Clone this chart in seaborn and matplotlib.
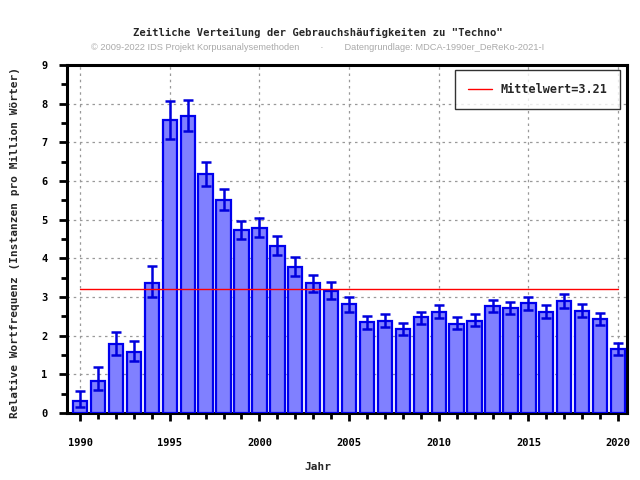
#recreates the "Techno" usage frequency bar chart (relative frequency per year with error bars)

import numpy as np
import matplotlib
matplotlib.use("Agg")
import matplotlib.pyplot as plt
import seaborn as sns
import pandas as pd

years = list(range(1990, 2021))
freq = [0.32, 0.84, 1.79, 1.59, 3.37, 7.59, 7.69, 6.19, 5.52, 4.74, 4.79,
        4.33, 3.78, 3.37, 3.16, 2.81, 2.36, 2.39, 2.18, 2.47, 2.62,
        2.31, 2.39, 2.78, 2.72, 2.85, 2.62, 2.90, 2.65, 2.44, 1.66]
err_hi = [0.58, 1.20, 2.10, 1.87, 3.81, 8.08, 8.10, 6.50, 5.80, 4.97, 5.05,
          4.58, 4.04, 3.58, 3.40, 3.01, 2.52, 2.57, 2.34, 2.62, 2.80,
          2.49, 2.57, 2.93, 2.88, 3.01, 2.80, 3.09, 2.83, 2.59, 1.82]
err_lo = [0.16, 0.59, 1.50, 1.34, 3.00, 7.09, 7.30, 5.88, 5.25, 4.50, 4.55,
          4.09, 3.54, 3.13, 2.95, 2.60, 2.16, 2.22, 2.03, 2.29, 2.46,
          2.16, 2.24, 2.61, 2.56, 2.66, 2.46, 2.72, 2.48, 2.28, 1.50]
mean_value = 3.21

mono = "DejaVu Sans Mono"

df = pd.DataFrame({"Jahr": years, "freq": freq})

sns.set_style("ticks")
plt.rcParams["font.family"] = [mono]

fig = plt.figure(figsize=(6.4, 4.8), dpi=100)
ax = fig.add_axes([67 / 640, 1 - 413 / 480, 560 / 640, 348 / 480])

sns.barplot(data=df, x="Jahr", y="freq", native_scale=True, width=0.8,
            color="#8080ff", saturation=1, edgecolor="#0000ee", linewidth=1.6,
            errorbar=None, ax=ax, zorder=3)

f = np.array(freq)
yerr = [f - np.array(err_lo), np.array(err_hi) - f]
ax.errorbar(years, freq, yerr=yerr, fmt="none", ecolor="#0000dd",
            elinewidth=1.8, capsize=3.5, capthick=1.8, zorder=4)

ax.plot([years[0], years[-1]], [mean_value, mean_value], color="red",
        linewidth=1, label="Mittelwert=%.2f" % mean_value, zorder=5)

ax.set_xlim(1989.27, 2020.5)
ax.set_ylim(0, 9)
ax.set_xticks(range(1990, 2021, 5))
ax.set_xticks(years, minor=True)
ax.set_yticks(range(0, 10))
ax.set_yticks(np.arange(0.5, 9, 1), minor=True)
ax.grid(True, which="major", color="#999999", linestyle=(0, (2, 3)), linewidth=0.9)

for s in ax.spines.values():
    s.set_visible(True)
    s.set_color("black")
    s.set_linewidth(2.2)

ax.tick_params(which="both", bottom=True, left=True, top=False, right=False,
               direction="out", color="black", width=2)
ax.tick_params(which="major", length=6, labelsize=7.5, labelcolor="black")
ax.tick_params(which="minor", length=4)
ax.tick_params(axis="x", which="major", pad=12)
ax.tick_params(axis="y", which="major", pad=8)
for lab in ax.get_xticklabels() + ax.get_yticklabels():
    lab.set_fontweight("bold")

ax.set_xlabel("Jahr", fontsize=8, fontweight="bold")
ax.xaxis.set_label_coords((318 - 67) / 560, (413 - 462) / 348)
ax.set_ylabel("Relative Wortfrequenz (Instanzen pro Million Wörter)", fontsize=8,
              fontweight="bold")
ax.yaxis.set_label_coords((20 - 67) / 560, (413 - 243) / 348)

leg = ax.legend(loc="upper right", frameon=True, fancybox=False,
                borderpad=1.1, handlelength=2.0, handletextpad=0.7,
                borderaxespad=0,
                bbox_to_anchor=((620 - 67) / 560, (413 - 70) / 348),
                prop={"family": mono, "weight": "bold", "size": 8.5})
leg.get_frame().set_edgecolor("black")
leg.get_frame().set_linewidth(1)
leg.set_zorder(10)

fig.text(318 / 640, 1 - 33 / 480,
         'Zeitliche Verteilung der Gebrauchshäufigkeiten zu "Techno"',
         ha="center", va="center", fontsize=7.6, fontweight="bold")
fig.text(318 / 640, 1 - 47 / 480,
         "© 2009-2022 IDS Projekt Korpusanalysemethoden        ·        "
         "Datengrundlage: MDCA-1990er_DeReKo-2021-I",
         ha="center", va="center", fontsize=6.7, color="#aaaaaa",
         family="Liberation Sans")

fig.savefig("out.png", dpi=100)
